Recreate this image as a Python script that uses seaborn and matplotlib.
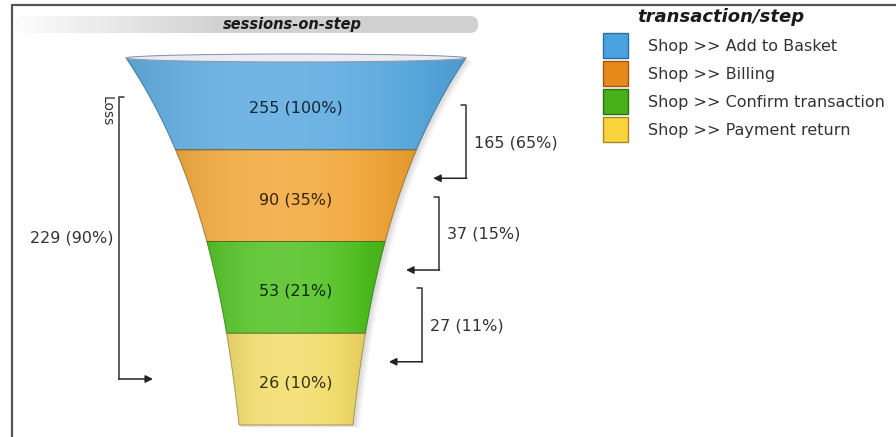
import numpy as np
import matplotlib
matplotlib.use("Agg")
import matplotlib.pyplot as plt
import seaborn as sns
from matplotlib.patches import Polygon, Ellipse, Rectangle, FancyBboxPatch
from matplotlib.colors import to_rgb

# donnees du funnel
steps = ["Shop >> Add to Basket", "Shop >> Billing",
         "Shop >> Confirm transaction", "Shop >> Payment return"]
sessions = [255, 90, 53, 26]
fill_colors = ["#56a8df", "#f2a534", "#4cc01c", "#f3dc66"]
legend_colors = ["#4aa3e0", "#e8891c", "#47b11b", "#f9d43c"]
legend_edges = ["#2d6f9c", "#9a5a10", "#2b6f10", "#a8862a"]

chart_title = "sessions-on-step"
legend_title = "transaction/step"
loss_label = "Loss"

sns.set_theme(style="white")
plt.rcParams["font.family"] = ["DejaVu Sans"]

W, H = 896, 437
fig = plt.figure(figsize=(W / 100, H / 100), dpi=100)
ax = fig.add_axes([0, 0, 1, 1])

total = sessions[0]
pct = lambda v: int(v / total * 100 + 0.5)

cx = 296
y_top, y_bot = 58, 425
seg_h = (y_bot - y_top) / len(sessions)


def half_width(y):
    return 35.5 + 134.5 * np.exp(-(np.asarray(y) - y_top) / 200)


def mix(c, other, w):
    return np.asarray(c) * (1 - w) + np.asarray(other) * w


# ombre a droite
ys_all = np.linspace(y_top, y_bot, 120)
hw_all = half_width(ys_all)
for k, a in [(7, 0.05), (5, 0.07), (3, 0.09)]:
    sv = np.r_[np.c_[cx - hw_all + k * 0.3, ys_all + k * 0.4],
               np.c_[cx + hw_all + k, ys_all + k * 0.4][::-1]]
    ax.add_patch(Polygon(sv, closed=True, fc="#606060", ec="none", alpha=a, zorder=1))

# segments avec degrade
for i, (val, col) in enumerate(zip(sessions, fill_colors)):
    y0 = y_top + i * seg_h
    y1 = y0 + seg_h
    ys = np.linspace(y0, y1, 60)
    hw = half_width(ys)
    verts = np.r_[np.c_[cx - hw, ys], np.c_[cx + hw, ys][::-1]]
    base = np.array(to_rgb(col))
    edge = mix(base, (0, 0, 0), 0.45)

    hw0 = hw.max()
    xs = np.linspace(-hw0, hw0, 300)
    t = np.clip((xs + 0.2 * hw0) / hw0, -1.2, 1.2)
    light = 0.16 * np.clip(1 - t ** 2, 0, 1)
    dark = 0.08 * np.clip(np.abs(xs) / hw0, 0, 1) ** 3
    row = np.array([mix(mix(base, (1, 1, 1), l), (0, 0, 0), d) for l, d in zip(light, dark)])
    img = np.repeat(row[None, :, :], 2, axis=0)
    im = ax.imshow(img, extent=[cx - hw0, cx + hw0, y1, y0], aspect="auto",
                   interpolation="bilinear", zorder=2)
    clip = Polygon(verts, closed=True, fc="none", ec="none", transform=ax.transData)
    ax.add_patch(clip)
    im.set_clip_path(clip)
    ax.add_patch(Polygon(verts, closed=True, fc="none", ec=edge, lw=0.7, alpha=0.7, zorder=3))

    ax.text(cx, (y0 + y1) / 2 + 4, f"{val} ({pct(val)}%)", ha="center", va="center",
            fontsize=11.5, color=mix(base, (0, 0, 0), 0.78), zorder=5)

# bord superieur du funnel
ax.add_patch(Ellipse((cx, y_top), 2 * half_width(y_top), 8, fc="#e9ecf4",
                     ec="#8e98a8", lw=0.8, zorder=4))

# pertes entre etapes (a droite)
for i in range(len(sessions) - 1):
    loss = sessions[i] - sessions[i + 1]
    yt = y_top + (i + 0.5) * seg_h + 1
    yb = yt + 0.8 * seg_h
    x_tip = cx + half_width(yb) + 28
    x_v = x_tip + 33
    ax.plot([x_v - 5, x_v, x_v], [yt, yt, yb], color="#333333", lw=1.1, zorder=5)
    ax.annotate("", xy=(x_tip, yb), xytext=(x_v + 0.5, yb),
                arrowprops=dict(arrowstyle="-|>", color="#222222", lw=1.1,
                                mutation_scale=11, shrinkA=0, shrinkB=0), zorder=5)
    ax.text(x_v + 8, (yt + yb) / 2 + 1, f"{loss} ({pct(loss)}%)", ha="left", va="center",
            fontsize=11.5, color="#333333")

# perte totale (a gauche)
total_loss = sessions[0] - sessions[-1]
lt, lb = 97, 379
lx = 119
ax.plot([lx + 5, lx, lx], [lt, lt, lb], color="#333333", lw=1.1)
ax.annotate("", xy=(153, lb), xytext=(lx - 0.5, lb),
            arrowprops=dict(arrowstyle="-|>", color="#222222", lw=1.1,
                            mutation_scale=11, shrinkA=0, shrinkB=0))
ax.text(lx - 6, (lt + lb) / 2, f"{total_loss} ({pct(total_loss)}%)", ha="right", va="center",
        fontsize=11.5, color="#333333")
ax.text(lx - 12, lt - 1, loss_label, rotation=270, ha="center", va="top",
        fontsize=10, color="#333333")

# bandeau du titre
bar = FancyBboxPatch((15, 16), 463, 17, boxstyle="round,pad=0,rounding_size=8",
                     fc="none", ec="none", transform=ax.transData)
ax.add_patch(bar)
g = np.linspace(0, 1, 400)
shade = 0.99 - 0.17 * np.clip(g / 0.45, 0, 1)
gimg = np.repeat(np.stack([shade, shade, shade], axis=1)[None, :, :], 2, axis=0)
bim = ax.imshow(gimg, extent=[15, 478, 33, 16], aspect="auto", interpolation="bilinear", zorder=1)
bim.set_clip_path(bar)
ax.text(292, 25, chart_title, ha="center", va="center", fontsize=10.5,
        fontweight="bold", fontstyle="italic", color="#1a1a1a", zorder=5)

# legende
ax.text(637, 17, legend_title, ha="left", va="center", fontsize=13,
        fontweight="bold", fontstyle="italic", color="#1a1a1a")
for i, (lab, fc, ec) in enumerate(zip(steps, legend_colors, legend_edges)):
    ytop = 33 + i * 28
    ax.add_patch(Rectangle((603, ytop), 25, 25, fc=fc, ec=ec, lw=1.0))
    ax.text(648, ytop + 13, lab, ha="left", va="center", fontsize=11.5, color="#333333")

# cadre
ax.plot([12, W], [5, 5], color="#555555", lw=1.6)
ax.plot([12, 12], [5, H], color="#555555", lw=1.6)

ax.set_xlim(0, W)
ax.set_ylim(H, 0)
ax.axis("off")
sns.despine(ax=ax, left=True, bottom=True)

fig.savefig("out.png", dpi=100)
